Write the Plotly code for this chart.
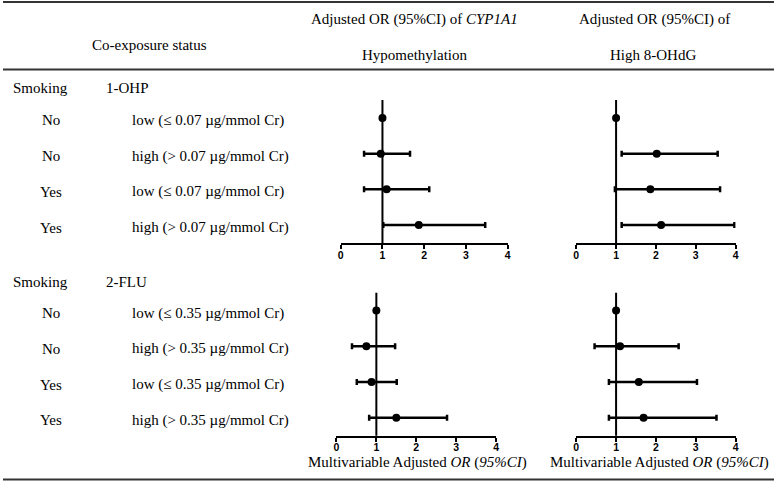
import plotly.graph_objects as go

W, H = 778, 482

# ---------------- data ----------------
smoking = ["No", "No", "Yes", "Yes"]
ohp_levels = ["low (\u2264 0.07 \u00b5g/mmol Cr)", "high (> 0.07 \u00b5g/mmol Cr)",
              "low (\u2264 0.07 \u00b5g/mmol Cr)", "high (> 0.07 \u00b5g/mmol Cr)"]
flu_levels = ["low (\u2264 0.35 \u00b5g/mmol Cr)", "high (> 0.35 \u00b5g/mmol Cr)",
              "low (\u2264 0.35 \u00b5g/mmol Cr)", "high (> 0.35 \u00b5g/mmol Cr)"]
row_pos = [4, 3, 2, 1]

cyp_ohp_or = [1.00, 0.96, 1.10, 1.87]
cyp_ohp_lo = [1.00, 0.56, 0.56, 1.02]
cyp_ohp_hi = [1.00, 1.66, 2.12, 3.46]

ohdg_ohp_or = [1.00, 2.02, 1.86, 2.13]
ohdg_ohp_lo = [1.00, 1.14, 0.97, 1.14]
ohdg_ohp_hi = [1.00, 3.55, 3.61, 3.97]

cyp_flu_or = [1.00, 0.75, 0.88, 1.50]
cyp_flu_lo = [1.00, 0.39, 0.51, 0.82]
cyp_flu_hi = [1.00, 1.47, 1.51, 2.77]

ohdg_flu_or = [1.00, 1.10, 1.57, 1.69]
ohdg_flu_lo = [1.00, 0.46, 0.82, 0.82]
ohdg_flu_hi = [1.00, 2.57, 3.03, 3.52]

x_ticks = [0, 1, 2, 3, 4]
ref_or = 1.0

# ---------------- helpers ----------------
def px(x):
    return x / W

def py(y):
    return 1 - y / H

SERIF = "Liberation Serif, Times New Roman, serif"
SANS = "Liberation Sans, Arial, sans-serif"

fig = go.Figure()

panels = [
    (cyp_ohp_or, cyp_ohp_lo, cyp_ohp_hi, (340.3, 508.7), (243, 100), ""),
    (ohdg_ohp_or, ohdg_ohp_lo, ohdg_ohp_hi, (577.7, 738.3), (243, 100), "2"),
    (cyp_flu_or, cyp_flu_lo, cyp_flu_hi, (336.0, 497.0), (435.7, 292.7), "3"),
    (ohdg_flu_or, ohdg_flu_lo, ohdg_flu_hi, (577.7, 738.3), (435.7, 292.7), "4"),
]

layout_axes = {}
shapes = []
for orv, lo, hi, (x0, x1), (yb, yt), s in panels:
    fig.add_trace(go.Scatter(
        x=orv, y=row_pos, mode="markers",
        marker=dict(color="black", size=8),
        error_x=dict(type="data", symmetric=False,
                     array=[h - o for h, o in zip(hi, orv)],
                     arrayminus=[o - l for o, l in zip(orv, lo)],
                     color="black", thickness=2.5, width=3),
        xaxis="x" + s, yaxis="y" + s, showlegend=False, hoverinfo="x"))
    layout_axes["xaxis" + s] = dict(
        domain=[px(x0), px(x1)], range=[0, 4], anchor="y" + s,
        tickvals=x_ticks, ticktext=[str(t) for t in x_ticks],
        showline=True, linecolor="black", linewidth=2,
        ticks="outside", ticklen=4, tickwidth=2, tickcolor="black",
        ticklabelstandoff=-3,
        showgrid=False, zeroline=False,
        tickfont=dict(family=SANS, size=10.5, color="black", weight="bold"))
    layout_axes["yaxis" + s] = dict(
        domain=[py(yb), py(yt)], range=[0.5, 4.5], anchor="x" + s,
        visible=False, showgrid=False, zeroline=False)
    shapes.append(dict(type="line", xref="x" + s, yref="y" + s + " domain",
                       x0=ref_or, x1=ref_or, y0=0, y1=1,
                       line=dict(color="black", width=2)))

# table rules
for yy in [2, 69.5, 479.5]:
    shapes.append(dict(type="line", xref="paper", yref="paper",
                       x0=0, x1=px(777), y0=py(yy), y1=py(yy),
                       line=dict(color="#333333", width=2)))

ann = []
def txt(text, x, y, xanchor="center", size=15):
    ann.append(dict(text=text, x=px(x), y=py(y),
                    xref="paper", yref="paper", xanchor=xanchor, yanchor="middle",
                    showarrow=False, font=dict(family=SERIF, size=size, color="black")))

# header
txt("Co-exposure status", 147.5, 45)
txt("Adjusted OR (95%CI) of <i>CYP1A1</i>", 415, 20)
txt("Hypomethylation", 415, 55)
txt("Adjusted OR (95%CI) of", 657, 20)
txt("High 8-OHdG", 655, 55)

# group headers
txt("Smoking", 8, 88, xanchor="left")
txt("1-OHP", 101.5, 88, xanchor="left")
txt("Smoking", 8, 281.7, xanchor="left")
txt("2-FLU", 101.5, 281.7, xanchor="left")

# row labels
for levels, yref in [(ohp_levels, "y"), (flu_levels, "y3")]:
    for smk, lvl, r in zip(smoking, levels, row_pos):
        ann.append(dict(text=smk, x=px(48), y=r - 0.07, xref="paper", yref=yref,
                        xanchor="center", yanchor="middle", showarrow=False,
                        font=dict(family=SERIF, size=15, color="black")))
        ann.append(dict(text=lvl, x=px(127.5), y=r - 0.07, xref="paper", yref=yref,
                        xanchor="left", yanchor="middle", showarrow=False,
                        font=dict(family=SERIF, size=15, color="black")))

# axis titles
txt("Multivariable Adjusted <i>OR</i> (<i>95%CI</i>)", 418, 462.5)
txt("Multivariable Adjusted <i>OR</i> (<i>95%CI</i>)", 662, 462.5)

fig.update_layout(
    width=W, height=H, margin=dict(l=0, r=0, t=0, b=0),
    paper_bgcolor="white", plot_bgcolor="white",
    shapes=shapes, annotations=ann, **layout_axes)

fig.write_html("out.html", config={"displayModeBar": False},
               post_script="document.body.style.margin='0px';document.body.style.overflow='hidden';")
